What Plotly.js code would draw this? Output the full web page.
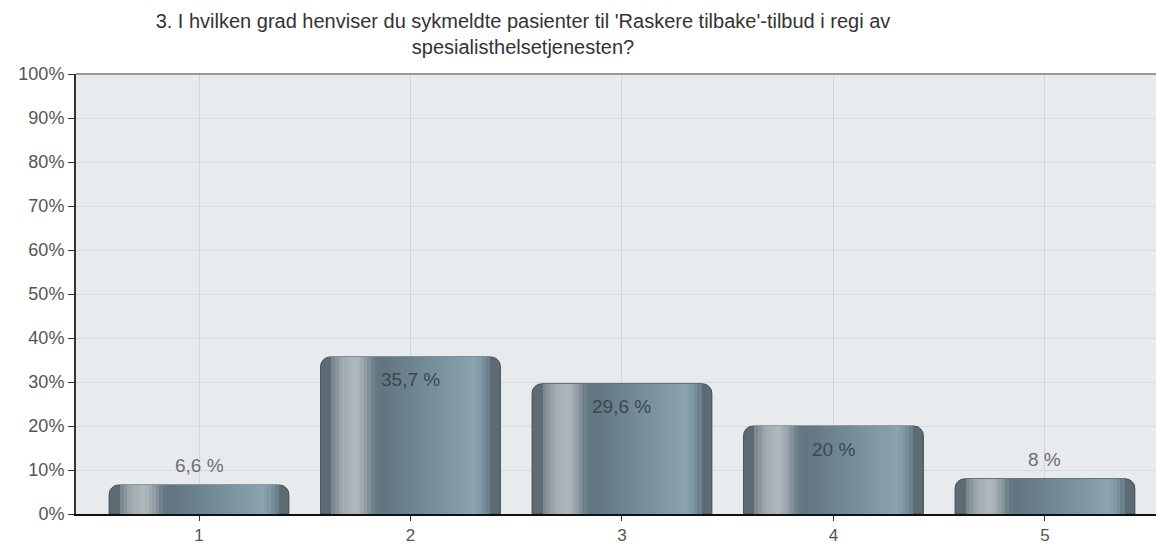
<!DOCTYPE html>
<html>
<head>
<meta charset="utf-8">
<script src="https://cdn.plot.ly/plotly-3.0.1.min.js"></script>
<style>
  html, body { margin: 0; padding: 0; background: #ffffff; }
  #chart { width: 1156px; height: 544px; }
</style>
</head>
<body>
<div id="chart"></div>
<script>
// ---- data ----
const titleText = "3. I hvilken grad henviser du sykmeldte pasienter til 'Raskere tilbake'-tilbud i regi av<br>spesialisthelsetjenesten?";
const categories = ['1', '2', '3', '4', '5'];
const values = [6.6, 35.7, 29.6, 20, 8];
const valueLabels = ['6,6 %', '35,7 %', '29,6 %', '20 %', '8 %'];
const yTickVals = [0, 10, 20, 30, 40, 50, 60, 70, 80, 90, 100];
const yTickText = ['0%', '10%', '20%', '30%', '40%', '50%', '60%', '70%', '80%', '90%', '100%'];

// ---- styling ----
const FONT = 'Liberation Sans, Arial, sans-serif';
const BAR_W = 0.85;
const gradientStops = [
  [0.00, [70, 84, 92]],
  [0.05, [109, 124, 132]],
  [0.12, [160, 170, 175]],
  [0.20, [176, 185, 189]],
  [0.26, [140, 154, 161]],
  [0.30, [104, 122, 132]],
  [0.34, [97, 117, 128]],
  [0.50, [109, 131, 144]],
  [0.70, [125, 149, 162]],
  [0.85, [139, 162, 176]],
  [0.90, [127, 149, 162]],
  [0.94, [102, 122, 133]],
  [1.00, [69, 84, 92]]
];
function colorAt(f) {
  for (let i = 0; i < gradientStops.length - 1; i++) {
    const a = gradientStops[i], b = gradientStops[i + 1];
    if (f >= a[0] && f <= b[0]) {
      const t = (f - a[0]) / (b[0] - a[0]);
      const c = a[1].map((v, k) => Math.round(v + (b[1][k] - v) * t));
      return 'rgb(' + c.join(',') + ')';
    }
  }
  const c = gradientStops[gradientStops.length - 1][1];
  return 'rgb(' + c.join(',') + ')';
}

const traces = [];
// base bar (rounded top, dark rim)
traces.push({
  type: 'bar', x: categories, y: values, width: BAR_W,
  marker: { color: 'rgb(92,107,116)', cornerradius: 10, line: { width: 1, color: 'rgb(66,78,86)' } },
  hoverinfo: 'skip', showlegend: false
});
// gradient stripes inside the bar
const f0 = 0.06, f1 = 0.94, N = 44;
const step = (f1 - f0) / N;
for (let s = 0; s < N; s++) {
  const fa = f0 + s * step;
  const fm = fa + step / 2;
  traces.push({
    type: 'bar', x: categories, y: values,
    width: step * BAR_W * 1.25,
    offset: (fa - 0.5) * BAR_W,
    marker: { color: colorAt(fm), line: { width: 0 } },
    hoverinfo: 'skip', showlegend: false
  });
}

// value labels: positioned by category index (category axis)
const annotations = values.map((v, i) => ({
  x: i, y: v, xref: 'x', yref: 'y', text: valueLabels[i],
  showarrow: false,
  yshift: v < 10 ? 19 : -23,
  font: { family: FONT, size: 19, color: v < 10 ? '#6e6e6e' : '#3b4850' }
}));

const layout = {
  width: 1156, height: 544,
  margin: { l: 76, r: 0, t: 74, b: 30 },
  paper_bgcolor: '#ffffff',
  plot_bgcolor: '#e8ebee',
  barmode: 'overlay',
  bargap: 0,
  showlegend: false,
  hovermode: false,
  title: {
    text: titleText,
    font: { family: FONT, size: 20, color: '#333333' },
    x: 0.4524, xref: 'container', xanchor: 'center',
    y: 0.949, yref: 'container', yanchor: 'middle'
  },
  xaxis: {
    type: 'category',
    range: [-0.5816, 4.525],
    showgrid: true, gridcolor: '#d3d6d9', gridwidth: 1,
    showline: true, linecolor: '#111111', linewidth: 1.5,
    ticks: 'outside', ticklen: 5, tickcolor: '#333333', tickwidth: 1,
    tickfont: { family: FONT, size: 17, color: '#555555' },
    zeroline: false, fixedrange: true
  },
  yaxis: {
    range: [0, 100],
    tickvals: yTickVals, ticktext: yTickText,
    showgrid: true, gridcolor: '#d6d9dc', gridwidth: 1,
    showline: true, linecolor: '#333333', linewidth: 2,
    ticks: 'outside', ticklen: 6, tickcolor: '#333333', tickwidth: 1,
    tickfont: { family: FONT, size: 18, color: '#555555' },
    zeroline: false, fixedrange: true
  },
  shapes: [{
    type: 'line', xref: 'paper', yref: 'paper', x0: 0, x1: 1, y0: 1, y1: 1,
    line: { color: '#9a9a9a', width: 2 }
  }],
  annotations: annotations
};

Plotly.newPlot('chart', traces, layout, { staticPlot: true, displayModeBar: false });
</script>
</body>
</html>
